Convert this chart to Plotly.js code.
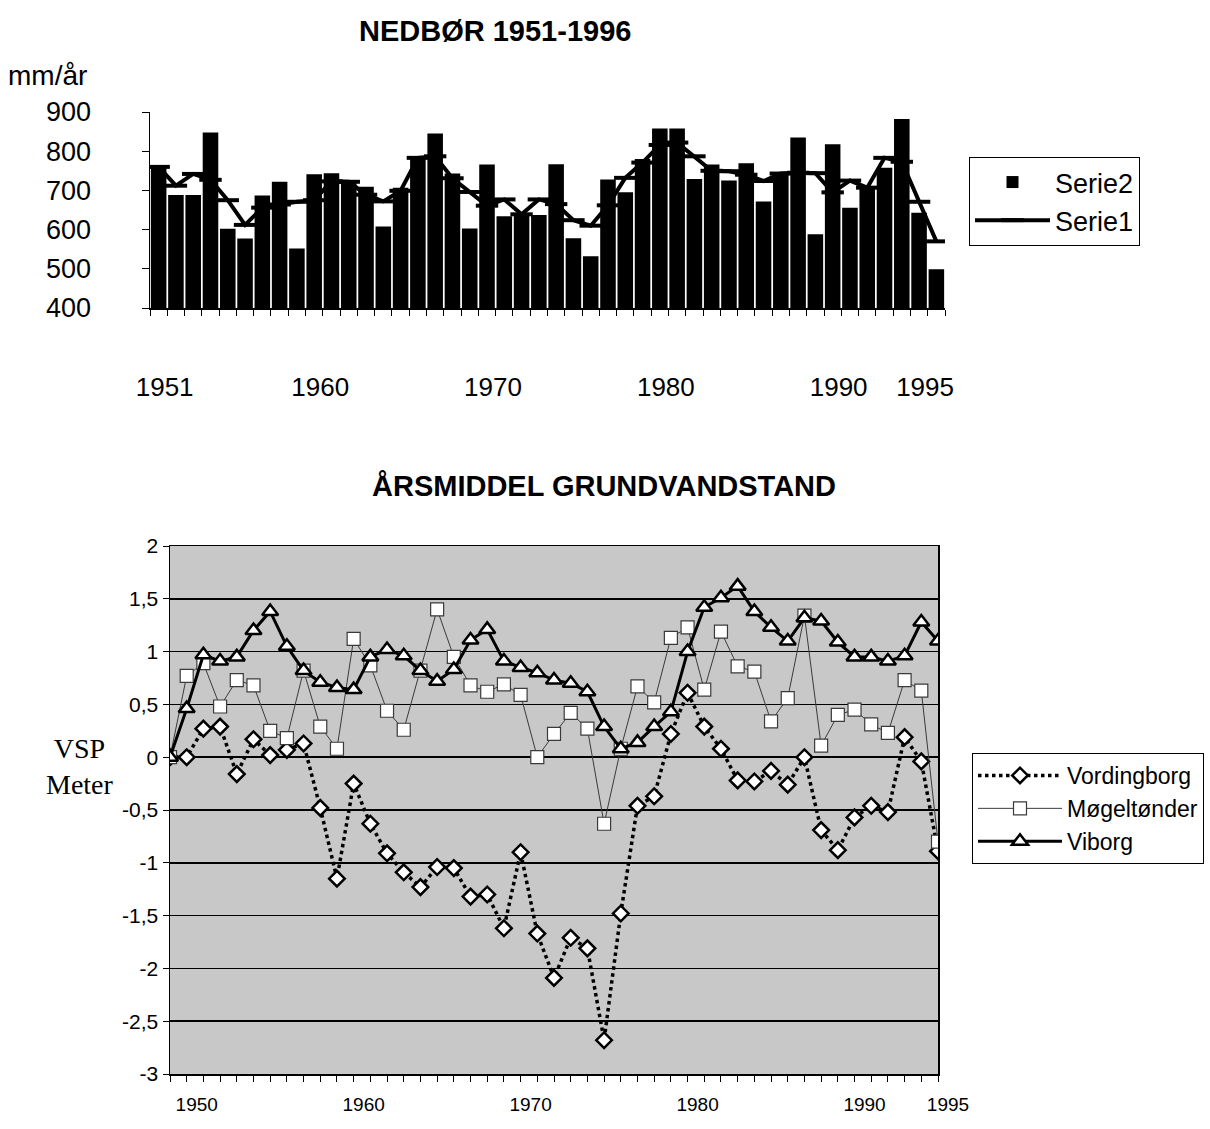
<!DOCTYPE html>
<html>
<head>
<meta charset="utf-8">
<script src="https://cdn.plot.ly/plotly-3.0.1.min.js"></script>
<style>
html,body{margin:0;padding:0;background:#fff;}
#chart{width:1210px;height:1129px;}
</style>
</head>
<body>
<div id="chart"></div>
<script>
// ---------- NEDBØR 1951-1996 (top chart) ----------
const rainYears = [1951,1952,1953,1954,1955,1956,1957,1958,1959,1960,
  1961,1962,1963,1964,1965,1966,1967,1968,1969,1970,
  1971,1972,1973,1974,1975,1976,1977,1978,1979,1980,
  1981,1982,1983,1984,1985,1986,1987,1988,1989,1990,
  1991,1992,1993,1994,1995,1996];
// Serie2 = bars (mm/år)
const serie2 = [764,688,688,848,602,577,687,722,552,741,
  744,726,709,608,707,787,845,743,603,766,
  634,640,637,767,578,532,728,695,780,858,
  858,729,766,725,769,672,747,835,588,818,
  656,704,758,882,643,499];
// Serie1 = line
const serie1 = [760,712,742,727,675,612,656,664,671,675,
  723,722,689,672,699,783,787,731,696,661,
  677,639,677,665,624,610,662,732,771,816,
  822,787,750,749,740,724,743,745,744,695,
  725,707,783,773,671,570];
const rainXTickVals = [1951,1960,1970,1980,1990,1995];
const rainXTickText = ['1951','1960','1970','1980','1990','1995'];
const rainYTickVals = [400,500,600,700,800,900];

// ---------- ÅRSMIDDEL GRUNDVANDSTAND (bottom chart) ----------
const gwYears = [1949,1950,1951,1952,1953,1954,1955,1956,1957,1958,1959,
  1960,1961,1962,1963,1964,1965,1966,1967,1968,1969,
  1970,1971,1972,1973,1974,1975,1976,1977,1978,1979,
  1980,1981,1982,1983,1984,1985,1986,1987,1988,1989,
  1990,1991,1992,1993,1994,1995];
const vordingborg = [0,0,0.27,0.29,-0.16,0.17,0.02,0.07,0.13,-0.48,-1.15,
  -0.25,-0.63,-0.91,-1.09,-1.23,-1.04,-1.05,-1.32,-1.30,-1.62,
  -0.90,-1.67,-2.09,-1.71,-1.81,-2.68,-1.48,-0.46,-0.37,0.22,
  0.61,0.29,0.08,-0.22,-0.23,-0.13,-0.26,0.00,-0.69,-0.88,
  -0.57,-0.46,-0.52,0.19,-0.04,-0.89];
const mogeltonder = [0,0.77,0.89,0.48,0.73,0.68,0.25,0.18,0.82,0.29,0.08,
  1.12,0.87,0.44,0.26,0.82,1.40,0.95,0.68,0.62,0.69,
  0.59,0.00,0.22,0.42,0.27,-0.63,0.08,0.67,0.52,1.13,
  1.23,0.64,1.19,0.86,0.81,0.34,0.56,1.34,0.11,0.40,
  0.45,0.31,0.23,0.73,0.63,-0.80];
const viborg = [0,0.46,0.97,0.91,0.95,1.20,1.38,1.05,0.82,0.71,0.66,
  0.64,0.95,1.02,0.96,0.82,0.72,0.83,1.11,1.21,0.91,
  0.85,0.80,0.73,0.70,0.62,0.29,0.08,0.14,0.29,0.43,
  1.00,1.42,1.51,1.62,1.38,1.23,1.10,1.32,1.29,1.09,
  0.95,0.95,0.91,0.96,1.28,1.10];
const gwXLabelYears = [1950,1960,1970,1980,1990,1995];
const gwYTickVals = [2,1.5,1,0.5,0,-0.5,-1,-1.5,-2,-2.5,-3];
const gwYTickText = ['2','1,5','1','0,5','0','-0,5','-1','-1,5','-2','-2,5','-3'];

// ---------- layout helpers ----------
const W = 1210, H = 1129;
const fx = p => p / W;
const fy = p => 1 - p / H;
const FONT = 'Liberation Sans, Arial, Helvetica, sans-serif';

const gwXTickText = gwYears.map(y => gwXLabelYears.includes(y) ? String(y) : '');

const traces = [
  {type:'bar', name:'Serie2', x:rainYears, y:serie2, xaxis:'x', yaxis:'y',
   marker:{color:'#000000', line:{width:0}}, legend:'legend'},
  {type:'scatter', mode:'lines+markers', name:'Serie1', x:rainYears, y:serie1, xaxis:'x', yaxis:'y',
   line:{color:'#000000', width:4},
   marker:{symbol:'line-ew', size:16, color:'#000000', line:{color:'#000000', width:4}},
   legend:'legend'},
  {type:'scatter', mode:'lines+markers', name:'Vordingborg', x:gwYears, y:vordingborg, xaxis:'x2', yaxis:'y2',
   line:{color:'#000000', width:3.5, dash:'dot'},
   marker:{symbol:'diamond', size:12, color:'#ffffff', line:{color:'#000000', width:2.5}},
   legend:'legend2'},
  {type:'scatter', mode:'lines+markers', name:'Møgeltønder', x:gwYears, y:mogeltonder, xaxis:'x2', yaxis:'y2',
   line:{color:'#3a3a3a', width:1},
   marker:{symbol:'square', size:13, color:'#ffffff', line:{color:'#3a3a3a', width:1.2}},
   legend:'legend2'},
  {type:'scatter', mode:'lines+markers', name:'Viborg', x:gwYears, y:viborg, xaxis:'x2', yaxis:'y2',
   line:{color:'#000000', width:3},
   marker:{symbol:'triangle-up', size:14, color:'#ffffff', line:{color:'#000000', width:2.5}},
   legend:'legend2'}
];

const layout = {
  width:W, height:H,
  margin:{l:0, r:0, t:0, b:0, autoexpand:false},
  paper_bgcolor:'#ffffff',
  plot_bgcolor:'rgba(0,0,0,0)',
  font:{family:FONT, color:'#000000', size:20},
  showlegend:true,
  bargap:0.1,
  hovermode:'closest',
  xaxis:{
    domain:[fx(150), fx(945)], range:[1950.5, 1996.5], anchor:'y',
    showline:true, linecolor:'#000000', linewidth:1.5,
    tickmode:'array', tickvals:rainXTickVals, ticktext:rainXTickText,
    ticks:'', tickfont:{size:26}, ticklabelstandoff:55, ticklabelshift:6,
    minor:{tickmode:'linear', tick0:1950.5, dtick:1, ticks:'outside', ticklen:6, tickcolor:'#000000', tickwidth:1, showgrid:false},
    showgrid:false, zeroline:false, fixedrange:true, automargin:false
  },
  yaxis:{
    domain:[fy(308), fy(112)], range:[400, 900], anchor:'x',
    showline:true, linecolor:'#000000', linewidth:1.5,
    tickmode:'array', tickvals:rainYTickVals,
    ticks:'outside', ticklen:7, tickcolor:'#000000',
    tickfont:{size:27}, ticklabelstandoff:45,
    showgrid:false, zeroline:false, fixedrange:true, automargin:false
  },
  xaxis2:{
    domain:[fx(170), fx(938)], range:[1949, 1995], anchor:'y2',
    showline:true, mirror:true, linecolor:'#000000', linewidth:1.5,
    tickmode:'array', tickvals:gwYears, ticktext:gwXTickText,
    ticks:'outside', ticklen:6, tickcolor:'#000000',
    tickfont:{size:19}, ticklabelstandoff:7, ticklabelshift:10,
    showgrid:false, zeroline:false, fixedrange:true, automargin:false
  },
  yaxis2:{
    domain:[fy(1074), fy(546)], range:[-3, 2], anchor:'x2',
    showline:true, mirror:true, linecolor:'#000000', linewidth:1.5,
    tickmode:'array', tickvals:gwYTickVals, ticktext:gwYTickText,
    ticks:'outside', ticklen:6, tickcolor:'#000000',
    tickfont:{size:21},
    showgrid:true, gridcolor:'#000000', gridwidth:1.5,
    zeroline:false, fixedrange:true, automargin:false
  },
  shapes:[
    {type:'rect', xref:'x2 domain', yref:'y2 domain', x0:0, x1:1, y0:0, y1:1,
     fillcolor:'#c8c8c8', line:{width:0}, layer:'below'}
  ],
  annotations:[
    {text:'<b>NEDBØR 1951-1996</b>', xref:'paper', yref:'paper', x:fx(495), y:fy(31),
     xanchor:'center', yanchor:'middle', showarrow:false, font:{size:29, family:FONT}},
    {text:'mm/år', xref:'paper', yref:'paper', x:fx(6), y:fy(76),
     xanchor:'left', yanchor:'middle', showarrow:false, font:{size:28, family:FONT}},
    {text:'<b>ÅRSMIDDEL GRUNDVANDSTAND</b>', xref:'paper', yref:'paper', x:fx(604), y:fy(486),
     xanchor:'center', yanchor:'middle', showarrow:false, font:{size:29, family:FONT}},
    {text:'VSP<br>Meter', xref:'paper', yref:'paper', x:fx(80), y:fy(766),
     xanchor:'center', yanchor:'middle', align:'center', showarrow:false,
     font:{size:28, family:'Liberation Serif, Times New Roman, serif'}}
  ],
  legend:{
    x:fx(969), y:fy(157), xanchor:'left', yanchor:'top',
    bgcolor:'#ffffff', bordercolor:'#000000', borderwidth:1,
    font:{size:27, family:FONT}, traceorder:'normal', itemwidth:75, tracegroupgap:0
  },
  legend2:{
    x:fx(972), y:fy(753), xanchor:'left', yanchor:'top',
    bgcolor:'#ffffff', bordercolor:'#000000', borderwidth:1,
    font:{size:23, family:FONT}, traceorder:'normal', itemwidth:84, tracegroupgap:0
  }
};

Plotly.newPlot('chart', traces, layout, {displayModeBar:false, staticPlot:true});
</script>
</body>
</html>
